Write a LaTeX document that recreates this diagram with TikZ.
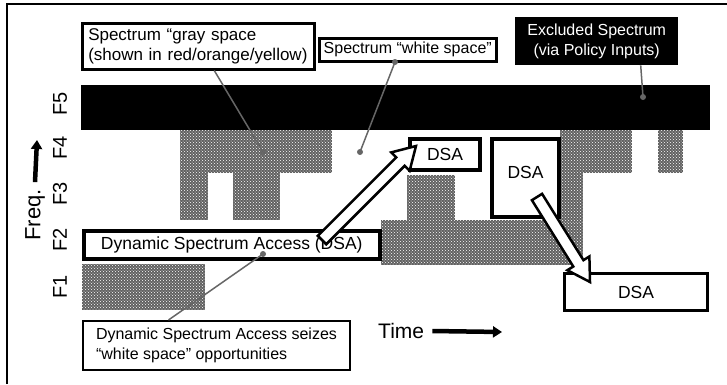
\documentclass[tikz,border=0pt]{standalone}
\usepackage{fontspec}
\setmainfont{Liberation Sans}
\usetikzlibrary{calc,patterns,arrows.meta}
\newcommand\hollowarrow[3]{%
  \coordinate (#3) at ($(#2)!22pt!(#1)$);
  \draw[harrow] ($(#1)!6pt!90:(#2)$) -- ($(#3)!6pt!90:(#2)$) -- ($(#3)!13pt!90:(#2)$) -- (#2)
    -- ($(#3)!13pt!-90:(#2)$) -- ($(#3)!6pt!-90:(#2)$) -- ($(#1)!6pt!-90:(#2)$) -- cycle;}
\begin{document}
\begin{tikzpicture}[x=1pt,y=-1pt,
  every node/.style={inner sep=0pt},
  tex/.style={fill=black!62, postaction={pattern=crosshatch dots, pattern color=white}},
  callout/.style={draw, line width=2.5pt, fill=white, align=left},
  dsabox/.style={draw, line width=4pt, fill=white, font=\fontsize{17.5pt}{20pt}\selectfont},
  leader/.style={draw=black!60, line width=1.5pt},
  ldot/.style={circle, fill=black!60, minimum size=6pt, inner sep=0pt},
  harrow/.style={draw, line width=2.5pt, fill=white, line join=miter},
  flabel/.style={rotate=90, font=\fontsize{20pt}{20pt}\selectfont},
  thickarrow/.style={line width=4.5pt, -{Triangle[length=9pt,width=11pt]}}]
\useasboundingbox (0,0) rectangle (727,384);
\draw[line width=1.2pt] (7,384) -- (7,4) -- (727,4);

% occupied (textured) spectrum
\fill[tex] (180,130) rectangle (332,173);
\fill[tex] (180,173) rectangle (208,220);
\fill[tex] (233,173) rectangle (280,220);
\fill[tex] (82,264) rectangle (205,310);
\fill[tex] (407,175) rectangle (455,222);
\fill[tex] (381,220) rectangle (583,265);
\fill[tex] (560,130) rectangle (632,173);
\fill[tex] (560,173) rectangle (583,222);
\fill[tex] (658,130) rectangle (683,173);

% excluded band F5
\fill (81,85) rectangle (710,130);

% callouts
\node[callout, anchor=north west, minimum width=232pt, minimum height=46pt, text width=220pt, inner xsep=6pt,
  font=\fontsize{17pt}{20pt}\selectfont] (gray) at (81,22) {Spectrum “gray space\\(shown in red/orange/yellow)};
\node[callout, anchor=north west, minimum width=177pt, minimum height=23pt, align=center,
  font=\fontsize{16pt}{19pt}\selectfont] (white) at (318,37) {Spectrum “white space”};
\node[fill=black, text=white, anchor=north west, minimum width=163pt, minimum height=48pt, align=center,
  font=\fontsize{16pt}{20pt}\selectfont] (excl) at (515,17) {Excluded Spectrum\\(via Policy Inputs)};

\node[draw, line width=3.5pt, fill=white, anchor=north west, minimum width=296pt, minimum height=28pt,
  font=\fontsize{17.5pt}{20pt}\selectfont] (dsabar) at (82,229) {Dynamic Spectrum Access (DSA)};
\node[callout, line width=2pt, anchor=north west, minimum width=266pt, minimum height=49pt,
  inner xsep=13pt, font=\fontsize{16pt}{20pt}\selectfont] (seize) at (82,320)
  {Dynamic Spectrum Access seizes\\“white space” opportunities};

% DSA boxes
\node[dsabox, anchor=north west, minimum width=70pt, minimum height=31pt] (dsa1) at (408,137) {DSA};
\node[dsabox, anchor=north west, minimum width=67pt, minimum height=78pt, text depth=12pt] (dsa2) at (490,137) {DSA};
\node[dsabox, line width=3pt, anchor=north west, minimum width=143pt, minimum height=37pt] (dsa3) at (563,272) {DSA};

% hollow arrows
\coordinate (a1s) at (322,240);
\coordinate (a1e) at (416,146);
\hollowarrow{a1s}{a1e}{a1h}
\coordinate (a2s) at (537,197);
\coordinate (a2e) at (590,282);
\hollowarrow{a2s}{a2e}{a2h}

% leaders
\coordinate (gdot) at (263,152);
\draw[leader] ([xshift=16pt]gray.south) -- (gdot);
\node[ldot] at (gdot) {};
\coordinate (wtop) at (395,62);
\coordinate (wdot) at (360,152);
\draw[leader] (wtop) -- (wdot);
\node[ldot] at (wtop) {};
\node[ldot] at (wdot) {};
\coordinate (edot) at (643,97);
\draw[leader] ([xshift=44pt]excl.south) -- (edot);
\node[ldot] at (edot) {};
\coordinate (sdot) at (263,254);
\draw[leader] ([xshift=-48pt]seize.north) -- (sdot);
\node[ldot] at (sdot) {};

% axes labels
\node[flabel] (f5) at (60,104) {F5};
\node[flabel] (f4) at (60,148) {F4};
\node[flabel] (f3) at (60,194) {F3};
\node[flabel] (f2) at (60,240) {F2};
\node[flabel] (f1) at (60,287) {F1};
\node[rotate=90, font=\fontsize{22pt}{22pt}\selectfont] (freq) at (35,215) {Freq.};
\coordinate (ftop) at (37,140);
\draw[thickarrow] ([yshift=3pt]freq.east) ++(0,-4) -- (ftop);
\node[anchor=west, font=\fontsize{21pt}{21pt}\selectfont] (time) at (378,331) {Time};
\coordinate (tend) at (502,332);
\draw[thickarrow] ([xshift=8pt]time.east) -- (tend);
\end{tikzpicture}
\end{document}
